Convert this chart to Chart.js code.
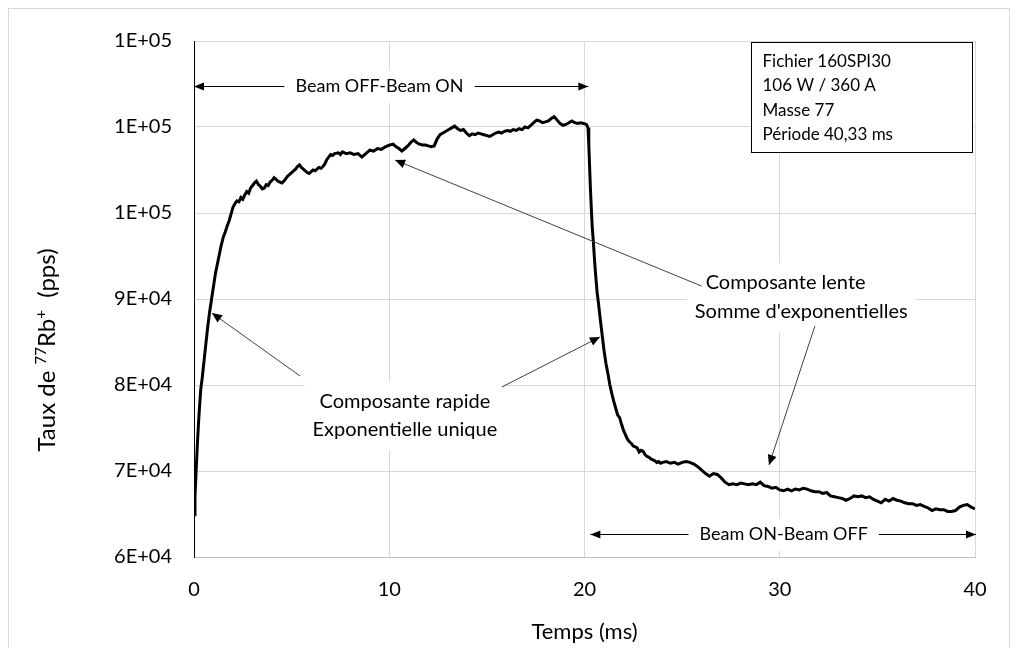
<!DOCTYPE html>
<html>
<head>
<meta charset="utf-8">
<script src="https://cdn.jsdelivr.net/npm/chart.js@4.4.0/dist/chart.umd.min.js"></script>
<style>
  html, body { margin: 0; padding: 0; background: #fff; }
  #wrap { width: 1018px; height: 648px; }
</style>
</head>
<body>
<div id="wrap"><canvas id="rbChart" width="1018" height="648"></canvas></div>
<script>
// temps (ms) et taux de 77Rb+ (pps), rangées de 10
const tempsMs = [
  0.00, 0.05, 0.10, 0.15, 0.20, 0.25, 0.30, 0.35, 0.40, 0.50,
  0.60, 0.70, 0.80, 0.90, 1.00, 1.10, 1.20, 1.30, 1.40, 1.50,
  1.60, 1.70, 1.80, 1.90, 2.00, 2.10, 2.20, 2.30, 2.40, 2.50,
  2.60, 2.70, 2.80, 2.90, 3.00, 3.10, 3.20, 3.30, 3.40, 3.50,
  3.60, 3.70, 3.80, 3.90, 4.00, 4.10, 4.20, 4.30, 4.40, 4.50,
  4.60, 4.70, 4.80, 4.90, 5.00, 5.10, 5.20, 5.30, 5.40, 5.50,
  5.60, 5.70, 5.80, 5.90, 6.00, 6.10, 6.20, 6.30, 6.40, 6.50,
  6.60, 6.70, 6.80, 6.90, 7.00, 7.10, 7.20, 7.40, 7.50, 7.60,
  7.80, 8.00, 8.20, 8.40, 8.60, 8.80, 9.00, 9.20, 9.40, 9.60,
  9.80, 10.00, 10.20, 10.35, 10.50, 10.65, 10.80, 10.95, 11.10, 11.25,
  11.40, 11.55, 11.70, 11.85, 12.00, 12.15, 12.30, 12.45, 12.60, 12.75,
  12.90, 13.05, 13.20, 13.35, 13.50, 13.65, 13.80, 13.95, 14.10, 14.25,
  14.40, 14.55, 14.70, 14.85, 15.00, 15.15, 15.30, 15.45, 15.60, 15.75,
  15.90, 16.05, 16.20, 16.35, 16.50, 16.65, 16.80, 16.95, 17.10, 17.25,
  17.40, 17.55, 17.70, 17.85, 18.00, 18.15, 18.30, 18.45, 18.60, 18.75,
  18.90, 19.05, 19.20, 19.35, 19.50, 19.65, 19.80, 19.95, 20.10, 20.18,
  20.22, 20.26, 20.30, 20.35, 20.40, 20.45, 20.50, 20.55, 20.60, 20.65,
  20.70, 20.80, 20.90, 21.00, 21.10, 21.20, 21.30, 21.40, 21.50, 21.60,
  21.70, 21.80, 21.90, 22.00, 22.10, 22.20, 22.30, 22.40, 22.50, 22.60,
  22.70, 22.80, 22.90, 23.00, 23.10, 23.20, 23.30, 23.40, 23.50, 23.60,
  23.70, 23.80, 23.90, 24.00, 24.20, 24.40, 24.60, 24.80, 25.00, 25.20,
  25.40, 25.60, 25.80, 26.00, 26.20, 26.40, 26.60, 26.80, 27.00, 27.20,
  27.40, 27.60, 27.80, 28.00, 28.20, 28.40, 28.60, 28.80, 29.00, 29.20,
  29.40, 29.60, 29.80, 30.00, 30.20, 30.40, 30.60, 30.80, 31.00, 31.20,
  31.40, 31.60, 31.80, 32.00, 32.20, 32.40, 32.60, 32.80, 33.00, 33.20,
  33.40, 33.60, 33.80, 34.00, 34.20, 34.40, 34.60, 34.80, 35.00, 35.20,
  35.40, 35.60, 35.80, 36.00, 36.20, 36.40, 36.60, 36.80, 37.00, 37.20,
  37.40, 37.60, 37.80, 38.00, 38.20, 38.40, 38.60, 38.80, 39.00, 39.20,
  39.40, 39.60, 39.80, 40.00
];
const tauxPps = [
  64900, 67000, 69500, 72000, 74300, 76300, 78000, 79600, 80400, 82500,
  84600, 86700, 88500, 90000, 91500, 93000, 94100, 95200, 96300, 97200,
  97800, 98500, 99100, 99900, 100700, 101100, 101400, 101300, 101800, 101600,
  102100, 102500, 102300, 102900, 103200, 103500, 103700, 103300, 103100, 102800,
  102900, 103300, 103200, 103600, 103800, 104100, 103900, 103700, 103600, 103500,
  103700, 104000, 104300, 104500, 104700, 104900, 105100, 105400, 105600, 105300,
  105100, 104900, 104700, 104600, 104800, 105000, 104900, 105100, 105300, 105200,
  105400, 105700, 106200, 106500, 106800, 106700, 106900, 107000, 106800, 107100,
  106900, 107000, 106800, 106900, 106500, 106900, 107300, 107200, 107500, 107400,
  107700, 107900, 108000, 107700, 107500, 107200, 107500, 107800, 108200, 108500,
  108200, 108000, 107900, 107900, 107800, 107700, 107800, 108600, 109100, 109300,
  109500, 109700, 109900, 110100, 109800, 109600, 109700, 109300, 109000, 109200,
  109100, 109300, 109200, 109100, 109000, 108900, 109100, 109300, 109400, 109300,
  109500, 109600, 109500, 109700, 109600, 109800, 109700, 110000, 109900, 110200,
  110500, 110800, 110700, 110500, 110600, 110700, 111000, 111200, 110800, 110400,
  110200, 110300, 110500, 110700, 110500, 110400, 110500, 110400, 110300, 109900,
  108000, 105500, 103000, 100500, 98200, 96800, 95000, 93400, 92000, 90700,
  89800, 87800, 85900, 84000, 82500, 81300, 80000, 79000, 78100, 77300,
  76500, 76200, 75400, 74700, 74200, 73700, 73400, 73200, 72900, 72800,
  72700, 72200, 72400, 72300, 71900, 71700, 71600, 71400, 71300, 71200,
  71000, 71100, 70900, 71000, 71100, 70900, 71000, 70800, 71000, 71100,
  71000, 70800, 70500, 70100, 69700, 69400, 69700, 69600, 69200, 68700,
  68400, 68500, 68400, 68600, 68500, 68400, 68500, 68400, 68700, 68300,
  68200, 68000, 68100, 67800, 67700, 67900, 67700, 67900, 67800, 68000,
  67900, 67700, 67600, 67600, 67400, 67500, 67100, 67000, 66900, 66800,
  66600, 66800, 67100, 67000, 67100, 66900, 67000, 66700, 66500, 66300,
  66700, 66500, 66800, 66600, 66500, 66300, 66200, 66200, 66000, 66100,
  65900, 65700, 65400, 65600, 65500, 65500, 65300, 65300, 65400, 65800,
  66000, 66100, 65800, 65600
];
const xTicks = [0, 10, 20, 30, 40];
const yTicks = [60000, 70000, 80000, 90000, 100000, 110000, 120000];

const infoLines = ['Fichier 160SPI30', '106 W / 360 A', 'Masse 77', 'Période 40,33 ms'];

// libellés avec double flèche horizontale (en unités des axes)
const spanLabels = [
  { text: 'Beam OFF-Beam ON', from: 0, to: 20.2, y: 114800, at: 9.5 },
  { text: 'Beam ON-Beam OFF', from: 20.3, to: 40.05, y: 62700, at: 30.2 }
];
// blocs de texte (centres en unités des axes)
const noteBlocks = [
  [{ text: 'Composante lente', x: 30.3, y: 91860 }, { text: "Somme d'exponentielles", x: 31.1, y: 88490 }],
  [{ text: 'Composante rapide', x: 10.8, y: 78020 }, { text: 'Exponentielle unique', x: 10.8, y: 74770 }]
];
// flèches : [x0, y0] -> [x1, y1], pointe en bout
const arrows = [
  [[26.0, 91500], [10.3, 106160]],
  [[31.8, 86860], [29.45, 70700]],
  [[5.43, 81050], [0.92, 88370]],
  [[15.77, 79770], [20.79, 85580]]
];

const FONT = 'Lato, "Open Sans", sans-serif';

function excelSci(v) {
  const [m, e] = Number(v).toExponential(0).split('e');
  const sign = e[0] === '-' ? '-' : '+';
  return m + 'E' + sign + e.replace(/[+-]/, '').padStart(2, '0');
}

function arrowHead(ctx, x0, y0, x1, y1, len, half) {
  const a = Math.atan2(y1 - y0, x1 - x0);
  ctx.beginPath();
  ctx.moveTo(x1, y1);
  ctx.lineTo(x1 - len * Math.cos(a) + half * Math.sin(a), y1 - len * Math.sin(a) - half * Math.cos(a));
  ctx.lineTo(x1 - len * Math.cos(a) - half * Math.sin(a), y1 - len * Math.sin(a) + half * Math.cos(a));
  ctx.closePath();
  ctx.fill();
}

const decorPlugin = {
  id: 'decor',
  beforeDraw(chart) {
    const ctx = chart.ctx;
    ctx.save();
    ctx.strokeStyle = '#d9d9d9';
    ctx.lineWidth = 1;
    ctx.strokeRect(8.5, 8.5, chart.width - 17, chart.height + 20);
    ctx.restore();
  },
  afterDatasetsDraw(chart) {
    const { ctx, chartArea: area } = chart;
    const xs = chart.scales.x, ys = chart.scales.y;
    const px = v => xs.getPixelForValue(v);
    const py = v => ys.getPixelForValue(v);
    ctx.save();

    // blocs de texte sur fond blanc
    ctx.font = '20px ' + FONT;
    ctx.textAlign = 'center';
    ctx.textBaseline = 'middle';
    noteBlocks.forEach(block => {
      let l = Infinity, r = -Infinity, t = Infinity, b = -Infinity;
      block.forEach(n => {
        const w = ctx.measureText(n.text).width;
        l = Math.min(l, px(n.x) - w / 2); r = Math.max(r, px(n.x) + w / 2);
        t = Math.min(t, py(n.y) - 14); b = Math.max(b, py(n.y) + 14);
      });
      ctx.fillStyle = '#fff';
      ctx.fillRect(l - 8, t - 6, r - l + 16, b - t + 12);
    });

    // flèches obliques
    ctx.strokeStyle = '#404040';
    ctx.fillStyle = '#000';
    ctx.lineWidth = 1;
    arrows.forEach(([a, b]) => {
      const x0 = px(a[0]), y0 = py(a[1]), x1 = px(b[0]), y1 = py(b[1]);
      ctx.beginPath();
      ctx.moveTo(x0, y0);
      ctx.lineTo(x1, y1);
      ctx.stroke();
      arrowHead(ctx, x0, y0, x1, y1, 10, 4.5);
    });

    ctx.fillStyle = '#000';
    noteBlocks.forEach(block => block.forEach(n => ctx.fillText(n.text, px(n.x), py(n.y))));

    // doubles flèches horizontales
    ctx.font = '18px ' + FONT;
    spanLabels.forEach(s => {
      const y = Math.round(py(s.y)) + 0.5, x0 = px(s.from), x1 = px(s.to);
      ctx.strokeStyle = '#000';
      ctx.beginPath();
      ctx.moveTo(x0, y);
      ctx.lineTo(x1, y);
      ctx.stroke();
      ctx.fillStyle = '#000';
      arrowHead(ctx, x1, y, x0, y, 10, 4);
      arrowHead(ctx, x0, y, x1, y, 10, 4);
      const w = ctx.measureText(s.text).width;
      ctx.fillStyle = '#fff';
      ctx.fillRect(px(s.at) - w / 2 - 11, y - 16, w + 22, 32);
      ctx.fillStyle = '#000';
      ctx.fillText(s.text, px(s.at), y);
    });

    // cartouche d'information
    const bx = area.right - 223.5, by = area.top + 1.5, bw = 221, bh = 110;
    ctx.fillStyle = '#fff';
    ctx.fillRect(bx, by, bw, bh);
    ctx.strokeStyle = '#000';
    ctx.strokeRect(bx, by, bw, bh);
    ctx.fillStyle = '#000';
    ctx.font = '17px ' + FONT;
    ctx.textAlign = 'left';
    infoLines.forEach((line, i) => ctx.fillText(line, bx + 11, by + 19 + i * 24.3));

    // titre de l'axe vertical avec exposants
    const parts = [
      { t: 'Taux de ', size: 24, rise: 0 },
      { t: '77', size: 15, rise: 9 },
      { t: 'Rb', size: 24, rise: 0 },
      { t: '+', size: 15, rise: 9 },
      { t: '  (pps)', size: 24, rise: 0 }
    ];
    let total = 0;
    parts.forEach(p => { ctx.font = p.size + 'px ' + FONT; p.w = ctx.measureText(p.t).width; total += p.w; });
    ctx.translate(area.left - 147, (area.top + area.bottom) / 2 + 51);
    ctx.rotate(-Math.PI / 2);
    let cx = -total / 2;
    ctx.textBaseline = 'alphabetic';
    parts.forEach(p => {
      ctx.font = p.size + 'px ' + FONT;
      ctx.fillText(p.t, cx, 8 - p.rise);
      cx += p.w;
    });
    ctx.restore();
  }
};

new Chart(document.getElementById('rbChart'), {
  type: 'scatter',
  data: {
    datasets: [{
      data: tempsMs.map((t, i) => ({ x: t, y: tauxPps[i] })),
      showLine: true,
      borderColor: '#000',
      borderWidth: 3,
      pointRadius: 0,
      tension: 0
    }]
  },
  options: {
    responsive: false,
    animation: false,
    devicePixelRatio: 1,
    layout: { padding: { top: 41, right: 43, left: 0, bottom: 0 } },
    plugins: { legend: { display: false }, tooltip: { enabled: false } },
    scales: {
      x: {
        type: 'linear',
        min: xTicks[0],
        max: xTicks[xTicks.length - 1],
        afterBuildTicks: s => { s.ticks = xTicks.map(v => ({ value: v })); },
        afterFit: s => { s.height = 91; },
        ticks: { color: '#000', padding: 21, font: { family: FONT, size: 20 } },
        grid: { color: '#d9d9d9', drawTicks: false },
        border: { color: '#bfbfbf' },
        title: {
          display: true, text: 'Temps (ms)', color: '#000',
          font: { family: FONT, size: 22 }, padding: { top: 0, bottom: 3 }
        }
      },
      y: {
        min: yTicks[0],
        max: yTicks[yTicks.length - 1],
        afterBuildTicks: s => { s.ticks = yTicks.map(v => ({ value: v })); },
        afterFit: s => { s.width = 194; },
        ticks: { color: '#000', padding: 22, font: { family: FONT, size: 20 }, callback: v => excelSci(v) },
        grid: { color: '#d9d9d9', drawTicks: false },
        border: { color: '#000' }
      }
    }
  },
  plugins: [decorPlugin]
});
</script>
</body>
</html>
